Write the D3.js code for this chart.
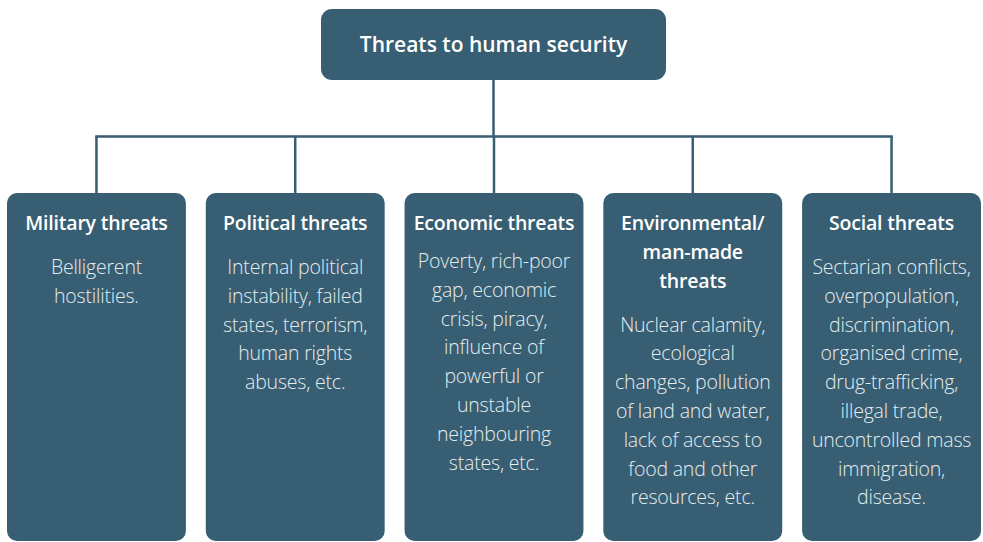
<!DOCTYPE html>
<html>
<head>
<meta charset="utf-8">
<script src="https://cdn.jsdelivr.net/npm/d3@7"></script>
<style>
  body { margin: 0; background: #fff; }
  svg { display: block; }
</style>
</head>
<body>
<div id="chart"></div>
<script>
// root of the tree
var rootLabel = "Threats to human security";

// the five categories of threat
var categories = ["Military threats", "Political threats", "Economic threats",
  "Environmental/ man-made threats", "Social threats"];

// title lines as they break in each box
var titleLines = [
  ["Military threats"],
  ["Political threats"],
  ["Economic threats"],
  ["Environmental/", "man-made", "threats"],
  ["Social threats"]
];

// body text lines for each box
var bodyLines = [
  ["Belligerent", "hostilities."],
  ["Internal political", "instability, failed", "states, terrorism,", "human rights", "abuses, etc."],
  ["Poverty, rich-poor", "gap, economic", "crisis, piracy,", "influence of", "powerful or", "unstable", "neighbouring", "states, etc."],
  ["Nuclear calamity,", "ecological", "changes, pollution", "of land and water,", "lack of access to", "food and other", "resources, etc."],
  ["Sectarian conflicts,", "overpopulation,", "discrimination,", "organised crime,", "drug-trafficking,", "illegal trade,", "uncontrolled mass", "immigration,", "disease."]
];

var width = 983, height = 542;
var boxColor = "#375e72";
var fontFamily = "'Open Sans', 'Noto Sans', sans-serif";

var svg = d3.select("#chart").append("svg")
  .attr("width", width)
  .attr("height", height);

// band scale for the five child boxes
var x = d3.scaleBand()
  .domain(categories)
  .range([7, 981])
  .paddingInner(0.1)
  .paddingOuter(0);

var rootBox = { x: 321, y: 9, w: 345, h: 71 };
var barY = 136.5;
var childTop = 193;
var childBottom = 541;
var lineH = 28.8;

// connectors
var rootCx = rootBox.x + rootBox.w / 2;
svg.append("line")
  .attr("x1", rootCx).attr("x2", rootCx)
  .attr("y1", rootBox.y + rootBox.h).attr("y2", barY)
  .attr("stroke", boxColor).attr("stroke-width", 2.5);

var centers = categories.map(d => x(d) + x.bandwidth() / 2);
svg.append("line")
  .attr("x1", d3.min(centers) - 1.25).attr("x2", d3.max(centers) + 1.25)
  .attr("y1", barY).attr("y2", barY)
  .attr("stroke", boxColor).attr("stroke-width", 2.5);

svg.selectAll(".stem")
  .data(categories)
  .enter()
  .append("line")
  .attr("class", "stem")
  .attr("x1", d => x(d) + x.bandwidth() / 2)
  .attr("x2", d => x(d) + x.bandwidth() / 2)
  .attr("y1", barY)
  .attr("y2", childTop)
  .attr("stroke", boxColor).attr("stroke-width", 2.5);

// root box
svg.append("rect")
  .attr("x", rootBox.x).attr("y", rootBox.y)
  .attr("width", rootBox.w).attr("height", rootBox.h)
  .attr("rx", 11)
  .attr("fill", boxColor);

svg.append("text")
  .attr("x", rootCx)
  .attr("y", rootBox.y + rootBox.h / 2 + 7.5)
  .attr("text-anchor", "middle")
  .attr("fill", "#ffffff")
  .style("font-family", fontFamily)
  .style("font-weight", 600)
  .style("font-size", "21px")
  .text(rootLabel);

// child boxes
var groups = svg.selectAll(".child")
  .data(categories)
  .enter()
  .append("g")
  .attr("class", "child")
  .attr("transform", d => `translate(${x(d)}, 0)`);

groups.append("rect")
  .attr("x", 0)
  .attr("y", childTop)
  .attr("width", x.bandwidth())
  .attr("height", childBottom - childTop)
  .attr("rx", 10)
  .attr("fill", boxColor);

groups.each(function(d, i) {
  var g = d3.select(this);
  var cx = x.bandwidth() / 2;
  var titleY = 230;

  titleLines[i].forEach(function(t, j) {
    g.append("text")
      .attr("x", cx)
      .attr("y", titleY + j * lineH)
      .attr("text-anchor", "middle")
      .attr("fill", "#ffffff")
      .style("font-family", fontFamily)
      .style("font-weight", 600)
      .style("font-size", "19.5px")
      .style("letter-spacing", "-0.2px")
      .text(t);
  });

  // economic box packs its text a little tighter under the title
  var gap = i === 2 ? 38 : 44;
  var bodyY = titleY + (titleLines[i].length - 1) * lineH + gap;

  bodyLines[i].forEach(function(t, j) {
    g.append("text")
      .attr("x", cx)
      .attr("y", bodyY + j * lineH)
      .attr("text-anchor", "middle")
      .attr("fill", "#e6edf0")
      .style("font-family", fontFamily)
      .style("font-weight", 300)
      .style("font-size", "19.5px")
      .style("letter-spacing", "-0.2px")
      .text(t);
  });
});
</script>
</body>
</html>
